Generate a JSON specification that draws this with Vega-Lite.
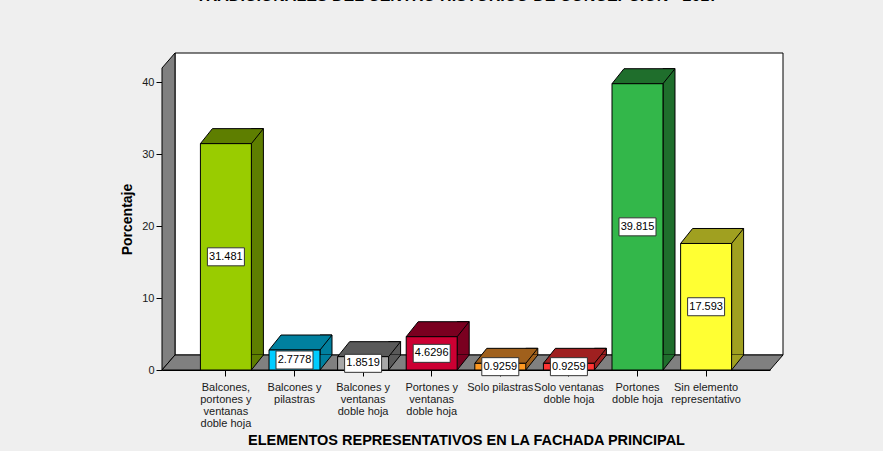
{
  "$schema": "https://vega.github.io/schema/vega-lite/v6.json",
  "width": 608,
  "height": 302,
  "autosize": {"type": "none"},
  "padding": {"left": 162, "top": 68, "right": 113, "bottom": 81},
  "background": "#efefef",
  "title": {
    "text": "TRADICIONALES DEL CENTRO HISTORICO DE CONCEPCION - 2017",
    "font": "Liberation Sans",
    "fontSize": 16,
    "fontWeight": "bold",
    "color": "#000000",
    "anchor": "middle",
    "frame": "group",
    "baseline": "alphabetic",
    "offset": 34,
    "dx": -9
  },
  "config": {
    "view": {"stroke": null},
    "font": "Liberation Sans",
    "axis": {
      "labelFont": "Liberation Sans",
      "labelFontSize": 11,
      "labelColor": "#1a1a1a",
      "titleFont": "Liberation Sans",
      "titleFontWeight": "bold",
      "titleColor": "#000000",
      "domainColor": "#000000",
      "tickColor": "#000000",
      "grid": false
    }
  },
  "data": {
    "values": [
      {"cat": "Balcones, portones y ventanas doble hoja", "pct": 31.481},
      {"cat": "Balcones y pilastras", "pct": 2.7778},
      {"cat": "Balcones y ventanas doble hoja", "pct": 1.8519},
      {"cat": "Portones y ventanas doble hoja", "pct": 4.6296},
      {"cat": "Solo pilastras", "pct": 0.9259},
      {"cat": "Solo ventanas doble hoja", "pct": 0.9259},
      {"cat": "Portones doble hoja", "pct": 39.815},
      {"cat": "Sin elemento representativo", "pct": 17.593}
    ]
  },
  "resolve": {"scale": {"x": "independent", "y": "independent", "color": "independent"}},
  "layer": [
    {
      "data": {"values": [{}]},
      "mark": {"type": "rect", "fill": "#ffffff", "stroke": "#000000", "strokeWidth": 1, "xOffset": 13, "x2Offset": 13, "yOffset": -15, "y2Offset": -15},
      "encoding": {
        "x": {"datum": 0, "type": "quantitative", "scale": {"domain": [0, 1]}, "axis": null},
        "x2": {"datum": 1},
        "y": {"datum": 0, "type": "quantitative", "scale": {"domain": [0, 42]}, "axis": null},
        "y2": {"datum": 42}
      }
    },
    {
      "data": {"values": [{}]},
      "mark": {"type": "point", "shape": "M0,0 L13,-15 L13,-317 L0,-302 Z", "size": 4, "filled": true, "fill": "#808080", "stroke": "#000000", "strokeWidth": 1, "opacity": 1},
      "encoding": {
        "x": {"datum": 0, "type": "quantitative", "scale": {"domain": [0, 1]}, "axis": null},
        "y": {"datum": 0, "type": "quantitative", "scale": {"domain": [0, 42]}, "axis": null}
      }
    },
    {
      "data": {"values": [{}]},
      "mark": {"type": "point", "shape": "M0,0 L608,0 L621,-15 L13,-15 Z", "size": 4, "filled": true, "fill": "#808080", "stroke": "#000000", "strokeWidth": 1, "opacity": 1},
      "encoding": {
        "x": {"datum": 0, "type": "quantitative", "scale": {"domain": [0, 1]}, "axis": null},
        "y": {"datum": 0, "type": "quantitative", "scale": {"domain": [0, 42]}, "axis": null}
      }
    },
    {
      "mark": {"type": "bar", "width": 12, "stroke": "#000000", "strokeWidth": 1, "xOffset": 31.5, "yOffset": -15, "y2Offset": -14.5},
      "encoding": {
        "x": {"field": "cat", "type": "nominal", "sort": null, "scale": {"type": "band", "paddingInner": 0.257, "paddingOuter": 0.56}, "axis": null},
        "y": {"field": "pct", "type": "quantitative", "scale": {"domain": [0, 42]}, "axis": null},
        "color": {
          "field": "cat", "type": "nominal", "sort": null, "legend": null,
          "scale": {
            "domain": ["Balcones, portones y ventanas doble hoja", "Balcones y pilastras", "Balcones y ventanas doble hoja", "Portones y ventanas doble hoja", "Solo pilastras", "Solo ventanas doble hoja", "Portones doble hoja", "Sin elemento representativo"],
            "range": ["#5e7e00", "#00809f", "#5a5a5a", "#7a0020", "#a0601c", "#9f2020", "#1f6e2c", "#a0a020"]
          }
        }
      }
    },
    {
      "mark": {"type": "point", "shape": "M25.5,0 L37.5,-15 L25.5,-15 Z", "size": 4, "filled": true, "strokeWidth": 0, "opacity": 1},
      "encoding": {
        "x": {"field": "cat", "type": "nominal", "sort": null, "scale": {"type": "band", "paddingInner": 0.257, "paddingOuter": 0.56}, "axis": null},
        "y": {"datum": 0, "type": "quantitative", "scale": {"domain": [0, 42]}, "axis": null},
        "color": {
          "field": "cat", "type": "nominal", "sort": null, "legend": null,
          "scale": {
            "domain": ["Balcones, portones y ventanas doble hoja", "Balcones y pilastras", "Balcones y ventanas doble hoja", "Portones y ventanas doble hoja", "Solo pilastras", "Solo ventanas doble hoja", "Portones doble hoja", "Sin elemento representativo"],
            "range": ["#5e7e00", "#00809f", "#5a5a5a", "#7a0020", "#a0601c", "#9f2020", "#1f6e2c", "#a0a020"]
          }
        }
      }
    },
    {
      "mark": {"type": "point", "shape": "M25.5,0 L37.5,-15", "size": 4, "filled": false, "stroke": "#000000", "strokeWidth": 1, "opacity": 1},
      "encoding": {
        "x": {"field": "cat", "type": "nominal", "sort": null, "scale": {"type": "band", "paddingInner": 0.257, "paddingOuter": 0.56}, "axis": null},
        "y": {"datum": 0, "type": "quantitative", "scale": {"domain": [0, 42]}, "axis": null}
      }
    },
    {
      "mark": {"type": "point", "shape": "M-25.5,0 L25.5,0 L37.5,-15 L-13.5,-15 Z", "size": 4, "filled": true, "stroke": "#000000", "strokeWidth": 1, "opacity": 1},
      "encoding": {
        "x": {"field": "cat", "type": "nominal", "sort": null, "scale": {"type": "band", "paddingInner": 0.257, "paddingOuter": 0.56}, "axis": null},
        "y": {"field": "pct", "type": "quantitative", "scale": {"domain": [0, 42]}, "axis": null},
        "fill": {
          "field": "cat", "type": "nominal", "sort": null, "legend": null,
          "scale": {
            "domain": ["Balcones, portones y ventanas doble hoja", "Balcones y pilastras", "Balcones y ventanas doble hoja", "Portones y ventanas doble hoja", "Solo pilastras", "Solo ventanas doble hoja", "Portones doble hoja", "Sin elemento representativo"],
            "range": ["#5e7e00", "#00809f", "#5a5a5a", "#7a0020", "#a0601c", "#9f2020", "#1f6e2c", "#a0a020"]
          }
        }
      }
    },
    {
      "mark": {"type": "bar", "stroke": "#000000", "strokeWidth": 1},
      "encoding": {
        "x": {
          "field": "cat", "type": "nominal", "sort": null,
          "scale": {"type": "band", "paddingInner": 0.257, "paddingOuter": 0.56},
          "axis": {
            "title": "ELEMENTOS REPRESENTATIVOS EN LA FACHADA PRINCIPAL",
            "titleFontSize": 14.5,
            "titlePadding": 5,
            "labelAngle": 0,
            "tickSize": 6,
            "labelPadding": 5,
            "labelBaseline": "top",
            "labelLineHeight": 12,
            "labelLimit": 200,
            "labelExpr": "datum.label == 'Balcones, portones y ventanas doble hoja' ? ['Balcones,', 'portones y', 'ventanas', 'doble hoja'] : datum.label == 'Balcones y pilastras' ? ['Balcones y', 'pilastras'] : datum.label == 'Balcones y ventanas doble hoja' ? ['Balcones y', 'ventanas', 'doble hoja'] : datum.label == 'Portones y ventanas doble hoja' ? ['Portones y', 'ventanas', 'doble hoja'] : datum.label == 'Solo ventanas doble hoja' ? ['Solo ventanas', 'doble hoja'] : datum.label == 'Portones doble hoja' ? ['Portones', 'doble hoja'] : datum.label == 'Sin elemento representativo' ? ['Sin elemento', 'representativo'] : datum.label"
          }
        },
        "y": {
          "field": "pct", "type": "quantitative",
          "scale": {"domain": [0, 42]},
          "axis": {"title": "Porcentaje", "titleFontSize": 14, "values": [0, 10, 20, 30, 40], "tickSize": 6, "labelPadding": 2, "titlePadding": 7}
        },
        "color": {
          "field": "cat", "type": "nominal", "sort": null, "legend": null,
          "scale": {
            "domain": ["Balcones, portones y ventanas doble hoja", "Balcones y pilastras", "Balcones y ventanas doble hoja", "Portones y ventanas doble hoja", "Solo pilastras", "Solo ventanas doble hoja", "Portones doble hoja", "Sin elemento representativo"],
            "range": ["#99cc00", "#00ccff", "#a8a8a8", "#cc0033", "#ff9922", "#ff3333", "#33b74a", "#ffff33"]
          }
        }
      }
    },
    {
      "mark": {"type": "point", "shape": "M-18.5,-9 L18.5,-9 L18.5,9 L-18.5,9 Z", "size": 4, "filled": true, "fill": "#ffffff", "stroke": "#333333", "strokeWidth": 1, "opacity": 1},
      "encoding": {
        "x": {"field": "cat", "type": "nominal", "sort": null, "scale": {"type": "band", "paddingInner": 0.257, "paddingOuter": 0.56}, "axis": null},
        "y": {"field": "pct", "type": "quantitative", "scale": {"domain": [0, 84]}, "axis": null}
      }
    },
    {
      "mark": {"type": "text", "fontSize": 11, "font": "Liberation Sans", "color": "#000000", "align": "center", "baseline": "middle"},
      "encoding": {
        "x": {"field": "cat", "type": "nominal", "sort": null, "scale": {"type": "band", "paddingInner": 0.257, "paddingOuter": 0.56}, "axis": null},
        "y": {"field": "pct", "type": "quantitative", "scale": {"domain": [0, 84]}, "axis": null},
        "text": {"field": "pct", "type": "quantitative", "format": ".5"}
      }
    }
  ]
}
